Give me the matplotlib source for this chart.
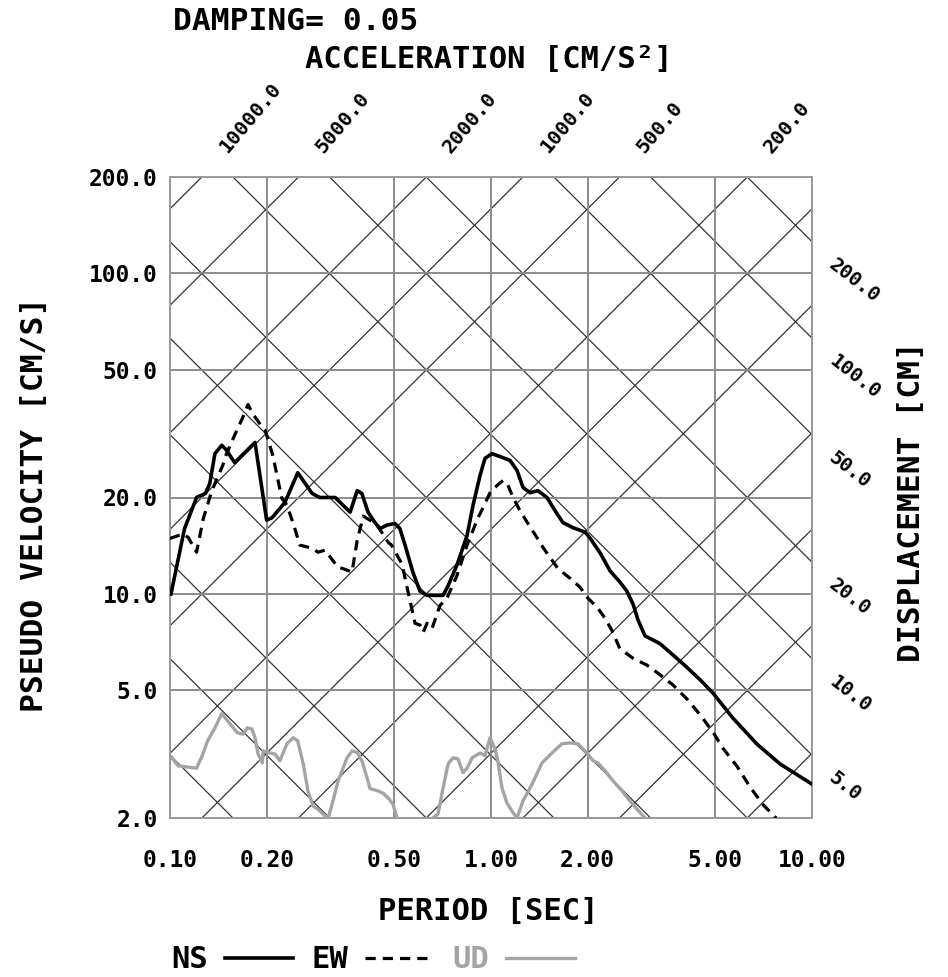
"""
Espectro de respuesta tripartito (pseudo velocidad vs periodo).
"""

import numpy as np
import matplotlib
matplotlib.use("Agg")
import matplotlib.pyplot as plt

# --- Datos ---
NS_T = [0.1007, 0.111, 0.121, 0.129, 0.133, 0.138, 0.145, 0.150, 0.159, 0.184,
        0.200, 0.208, 0.228, 0.250, 0.277, 0.293, 0.327, 0.364, 0.383, 0.396,
        0.414, 0.435, 0.451, 0.474, 0.502, 0.520, 0.540, 0.571, 0.601, 0.632,
        0.709, 0.735, 0.783, 0.842, 0.879, 0.924, 0.958, 1.007, 1.082, 1.146,
        1.205, 1.258, 1.323, 1.40, 1.494, 1.605, 1.676, 1.80, 1.963, 2.03,
        2.19, 2.35, 2.52, 2.65, 2.77, 2.87, 3.02, 3.36, 3.79, 4.08,
        4.48, 4.92, 5.67, 6.74, 7.95, 10.0]
NS_V = [10.0, 16.0, 20.0, 20.6, 22.1, 27.4, 29.1, 28.1, 25.7, 29.7,
        17.0, 17.3, 19.3, 23.9, 20.6, 20.0, 20.0, 18.0, 21.0, 20.6,
        18.0, 16.7, 16.0, 16.4, 16.6, 16.0, 14.2, 11.7, 10.2, 9.9,
        9.9, 10.6, 12.3, 15.2, 18.9, 23.4, 26.5, 27.4, 26.7, 26.1,
        24.3, 21.5, 20.7, 21.0, 20.0, 17.8, 16.7, 16.1, 15.6, 15.0,
        13.4, 11.8, 10.9, 10.2, 9.3, 8.3, 7.4, 7.0, 6.3, 5.9,
        5.4, 4.9, 4.1, 3.4, 2.95, 2.55]

EW_T = [0.100, 0.110, 0.114, 0.121, 0.127, 0.135, 0.146, 0.150, 0.159, 0.168,
        0.175, 0.181, 0.194, 0.198, 0.209, 0.223, 0.2315, 0.242, 0.254, 0.277,
        0.289, 0.304, 0.334, 0.346, 0.369, 0.383, 0.400, 0.440, 0.478, 0.490,
        0.528, 0.551, 0.580, 0.601, 0.615, 0.632, 0.655, 0.693, 0.729, 0.783,
        0.842, 0.911, 0.945, 0.993, 1.044, 1.09, 1.126, 1.171, 1.231, 1.303,
        1.39, 1.45, 1.527, 1.617, 1.762, 1.893, 2.005, 2.14, 2.265, 2.38,
        2.52, 2.77, 3.06, 3.36, 3.69, 4.08, 4.48, 4.92, 5.28, 5.84,
        6.41, 7.04, 7.73]
EW_V = [14.9, 15.4, 15.0, 13.5, 17.2, 21.0, 25.2, 27.4, 31.3, 35.3,
        39.0, 36.5, 33.1, 32.4, 27.1, 19.9, 18.9, 16.6, 14.2, 13.9,
        13.5, 13.7, 12.1, 12.0, 11.7, 14.7, 17.5, 16.5, 14.5, 14.2,
        12.4, 10.2, 8.1, 8.0, 7.6, 8.1, 7.8, 9.2, 9.7, 11.4,
        14.2, 17.3, 18.6, 20.7, 21.8, 22.6, 22.0, 20.0, 18.2, 16.6,
        15.0, 14.0, 13.0, 12.0, 11.2, 10.5, 9.7, 9.1, 8.4, 7.7,
        6.75, 6.3, 6.0, 5.6, 5.2, 4.7, 4.2, 3.7, 3.3, 2.9,
        2.5, 2.2, 2.0]

UD_T = [0.1014, 0.106, 0.121, 0.126, 0.131, 0.138, 0.145, 0.154, 0.162, 0.169,
        0.174, 0.180, 0.184, 0.188, 0.194, 0.195, 0.202, 0.212, 0.220, 0.2315,
        0.242, 0.250, 0.260, 0.269, 0.279, 0.289, 0.304, 0.311, 0.320, 0.334,
        0.356, 0.369, 0.383, 0.396, 0.411, 0.420, 0.445, 0.461, 0.478, 0.495,
        0.510, 0.580, 0.660, 0.684, 0.709, 0.735, 0.761, 0.789, 0.818, 0.842,
        0.873, 0.924, 0.958, 0.993, 1.029, 1.05, 1.082, 1.121, 1.163, 1.205,
        1.258, 1.342, 1.442, 1.549, 1.664, 1.762, 1.866, 1.991, 2.078, 2.154,
        2.265, 2.40, 2.56, 2.71, 2.85, 3.02, 3.3]
UD_V = [3.08, 2.91, 2.86, 3.13, 3.48, 3.82, 4.23, 3.93, 3.69, 3.65,
        3.82, 3.79, 3.56, 3.17, 2.97, 3.24, 3.20, 3.17, 3.02, 3.41,
        3.56, 3.48, 2.95, 2.43, 2.18, 2.13, 2.03, 2.00, 2.21, 2.61,
        3.08, 3.24, 3.20, 3.02, 2.67, 2.47, 2.43, 2.39, 2.31, 2.21,
        2.00, 1.75, 2.00, 2.06, 2.48, 2.95, 3.08, 3.06, 2.77, 2.86,
        3.08, 3.19, 3.13, 3.56, 3.29, 3.02, 2.48, 2.23, 2.10, 2.00,
        2.26, 2.55, 2.97, 3.19, 3.41, 3.43, 3.41, 3.19, 3.02, 2.97,
        2.81, 2.61, 2.43, 2.26, 2.13, 2.00, 1.8]

PERIOD_TICKS = [0.1, 0.2, 0.5, 1.0, 2.0, 5.0, 10.0]
PERIOD_LABELS = ["0.10", "0.20", "0.50", "1.00", "2.00", "5.00", "10.00"]
VEL_TICKS = [2, 5, 10, 20, 50, 100, 200]
VEL_LABELS = ["2.0", "5.0", "10.0", "20.0", "50.0", "100.0", "200.0"]

ACC_LEVELS = [2, 5, 10, 20, 50, 100, 200, 500, 1000, 2000, 5000, 10000]
ACC_LABELED = [200, 500, 1000, 2000, 5000, 10000]
DISP_LEVELS = [0.05, 0.1, 0.2, 0.5, 1, 2, 5, 10, 20, 50, 100, 200]
DISP_LABELED = [5, 10, 20, 50, 100, 200]

T_MIN, T_MAX = 0.1, 10.0
V_MIN, V_MAX = 2.0, 200.0

FONT = "DejaVu Sans Mono"
W, H = 948, 977


def fx(px):
    return px / W


def fy(py):
    return 1 - py / H


plt.rcParams["font.family"] = FONT
plt.rcParams["font.weight"] = "bold"

fig = plt.figure(figsize=(W / 100, H / 100), dpi=100)
ax = fig.add_axes([fx(170), fy(818), fx(812) - fx(170), fy(177) - fy(818)])
ax.set_xscale("log")
ax.set_yscale("log")
ax.set_xlim(T_MIN, T_MAX)
ax.set_ylim(V_MIN, V_MAX)

# --- Rejilla ortogonal ---
ax.set_xticks(PERIOD_TICKS)
ax.set_xticklabels(PERIOD_LABELS)
ax.set_yticks(VEL_TICKS)
ax.set_yticklabels(VEL_LABELS)
ax.minorticks_off()
ax.tick_params(length=0, labelsize=16.5)
ax.tick_params(axis="x", pad=22)
ax.tick_params(axis="y", pad=9)
ax.grid(True, color="#8c8c8c", lw=1.4)
for sp in ax.spines.values():
    sp.set_color("#9a9a9a")
    sp.set_linewidth(1.4)

# --- Rejilla diagonal (aceleracion y desplazamiento) ---
t_line = np.array([T_MIN, T_MAX])
for a in ACC_LEVELS:
    ax.plot(t_line, a * t_line / (2 * np.pi), color="#333333", lw=0.9, zorder=1)
for d in DISP_LEVELS:
    ax.plot(t_line, 2 * np.pi * d / t_line, color="#333333", lw=0.9, zorder=1)

# etiquetas de aceleracion (arriba)
for a in ACC_LABELED:
    t_top = 2 * np.pi * V_MAX / a
    ax.annotate(f"{a:.1f}", xy=(t_top, V_MAX), xycoords="data",
                xytext=(15, 19), textcoords="offset points",
                rotation=50, rotation_mode="anchor", ha="left", va="center",
                fontsize=14.5, annotation_clip=False)

# etiquetas de desplazamiento (derecha)
for d in DISP_LABELED:
    v_right = 2 * np.pi * d / T_MAX
    ax.annotate(f"{d:.1f}", xy=(T_MAX, v_right), xycoords="data",
                xytext=(14, -15), textcoords="offset points",
                rotation=-38, rotation_mode="anchor", ha="left", va="center",
                fontsize=14, annotation_clip=False)

# --- Curvas ---
l_ud, = ax.plot(UD_T, UD_V, color="#a4a4a4", lw=2.4, zorder=3)
l_ew, = ax.plot(EW_T, EW_V, color="black", lw=2.3, ls=(0, (3.2, 2.2)), zorder=4)
l_ns, = ax.plot(NS_T, NS_V, color="black", lw=2.6, zorder=5)

# --- Textos ---
fig.text(fx(173), fy(22), "DAMPING= 0.05", ha="left", va="center", fontsize=22.5)
fig.text(fx(489), fy(60), "ACCELERATION [CM/S²]", ha="center", va="center", fontsize=22)
fig.text(fx(488), fy(912), "PERIOD [SEC]", ha="center", va="center", fontsize=22)
fig.text(fx(35), fy(504), "PSEUDO VELOCITY [CM/S]", ha="center", va="center",
         rotation=90, fontsize=22.5)
fig.text(fx(912), fy(502), "DISPLACEMENT [CM]", ha="center", va="center",
         rotation=90, fontsize=22.5)

leg = ax.legend([l_ns, l_ew, l_ud], ["NS", "EW", "UD"], markerfirst=False, ncol=3,
                loc="center left", bbox_to_anchor=(fx(171), fy(960)),
                bbox_transform=fig.transFigure, frameon=False, fontsize=22,
                handlelength=2.25, handletextpad=0.55, columnspacing=0.6,
                borderpad=0, borderaxespad=0)
leg.get_texts()[2].set_color("#a4a4a4")

fig.savefig("out.png", dpi=100)
